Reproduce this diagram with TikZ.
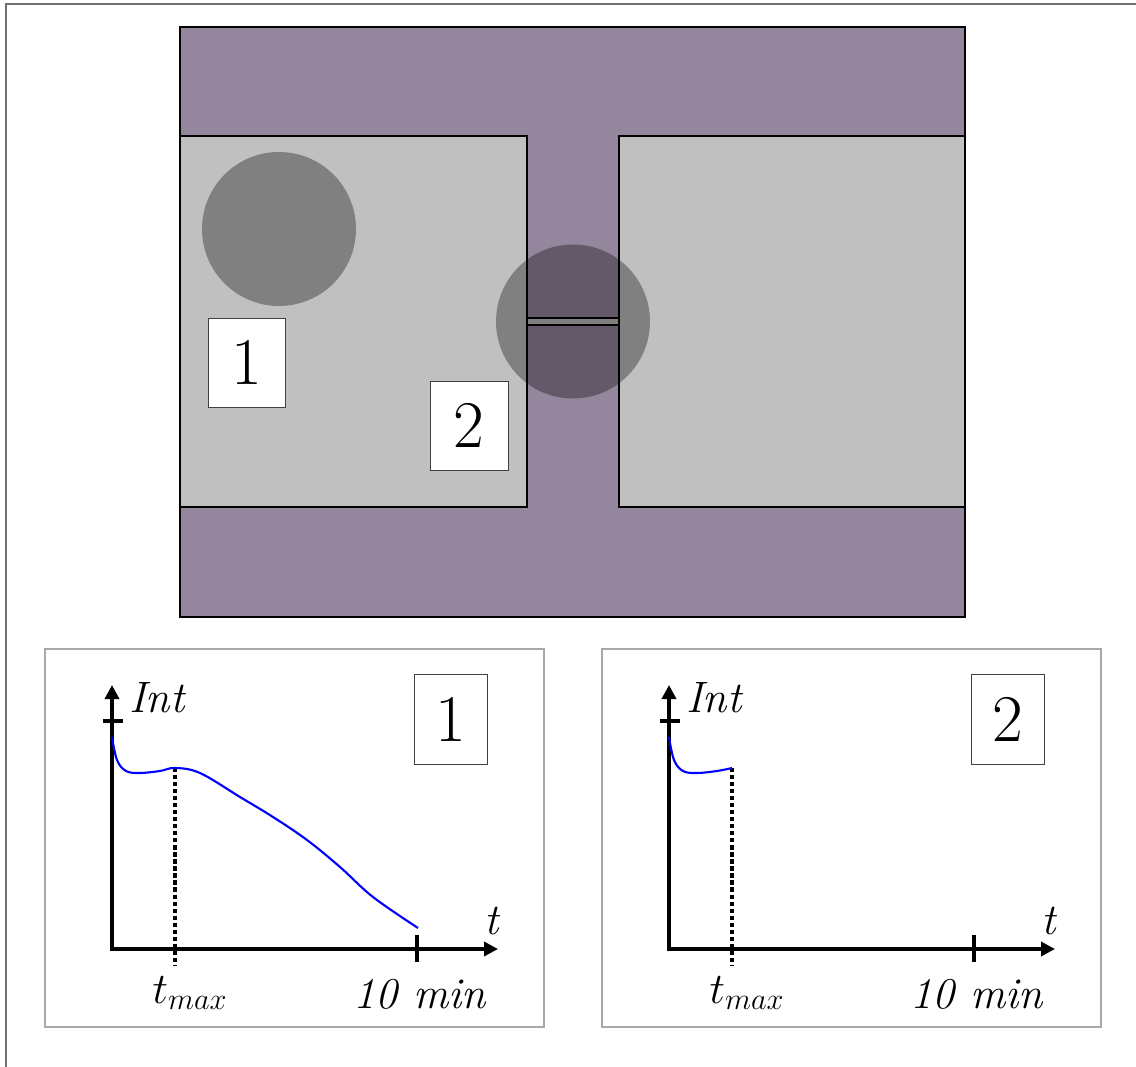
\documentclass[tikz,border=0pt]{standalone}
\usetikzlibrary{arrows.meta}
\definecolor{slab}{HTML}{94869C}
\definecolor{pad}{HTML}{C0C0C0}
\definecolor{frameline}{HTML}{707070}
\definecolor{panelline}{HTML}{A8A8A8}
\tikzset{
  region/.style={draw=black,line width=0.6pt},
  spot/.style={fill=black,fill opacity=0.33},
  numbox/.style={draw=black!75,fill=white,line width=0.5pt,inner sep=0pt,
    font=\fontsize{38}{40}\selectfont},
  axes/.style={line width=2.6pt,line join=miter,
    {Triangle[length=0.28cm,width=0.28cm]}-{Triangle[length=0.28cm,width=0.28cm]}},
  tickmark/.style={line width=2.6pt},
  maxline/.style={line width=2.6pt,dash pattern=on 2.4pt off 1.6pt},
  trace/.style={blue,line width=1.2pt},
  axlabel/.style={font=\fontsize{25}{27}\selectfont\itshape,inner sep=0pt}
}
\begin{document}
\begin{tikzpicture}[x=0.02cm,y=-0.02cm]
\useasboundingbox (0,0) rectangle (1136,1067);
\draw[frameline,line width=1.2pt] (6,1067) -- (6,4) -- (1136,4);
% chip
\draw[region,fill=slab] (180,27) rectangle (965,617);
\draw[region,fill=pad] (180,136) rectangle (527,507);
\draw[region,fill=pad] (619,136) rectangle (965,507);
\draw[region,fill=pad] (527,318) rectangle (619,325);
\fill[spot] (279,229) circle (77);
\fill[spot] (573,321.5) circle (77);
\node[numbox,minimum width=1.54cm,minimum height=1.78cm] (pos1) at (246.5,362.5) {1};
\node[numbox,minimum width=1.56cm,minimum height=1.78cm] (pos2) at (469,425.5) {2};
% panel 1
\begin{scope}
\draw[panelline,line width=0.6pt] (45,649) rectangle (544,1027);
\node[numbox,minimum width=1.46cm,minimum height=1.8cm] (box1) at (450.5,719) {1};
\draw[axes] (112,685) |- (498,949);
\draw[tickmark] (103,721) -- (123,721);
\draw[tickmark] (417,935) -- (417,962);
\draw[maxline] (175,768) -- (175,965);
\draw[trace] plot[smooth,tension=0.6] coordinates {(112,737) (117,760) (126,771) (140,773) (160,771) (175,768) (200,773) (240,797) (273,817) (307,840) (340,867) (373,897) (418,928)};
\node[axlabel,anchor=base west] (int1) at (129,712) {Int};
\node[axlabel,anchor=base west] (t1) at (484,934) {t};
\node[axlabel,anchor=base] (tm1) at (190,1003) {$t_{max}$};
\node[axlabel,anchor=base east] (ten1) at (486,1008) {10 min};
\end{scope}
% panel 2
\begin{scope}[shift={(557,0)}]
\draw[panelline,line width=0.6pt] (45,649) rectangle (544,1027);
\node[numbox,minimum width=1.46cm,minimum height=1.8cm] (box2) at (450.5,719) {2};
\draw[axes] (112,685) |- (498,949);
\draw[tickmark] (103,721) -- (123,721);
\draw[tickmark] (417,935) -- (417,962);
\draw[maxline] (175,768) -- (175,965);
\draw[trace] plot[smooth,tension=0.6] coordinates {(112,737) (117,760) (126,771) (140,773) (160,771) (175,768)};
\node[axlabel,anchor=base west] (int2) at (129,712) {Int};
\node[axlabel,anchor=base west] (t2) at (484,934) {t};
\node[axlabel,anchor=base] (tm2) at (190,1003) {$t_{max}$};
\node[axlabel,anchor=base east] (ten2) at (486,1008) {10 min};
\end{scope}
\end{tikzpicture}
\end{document}
